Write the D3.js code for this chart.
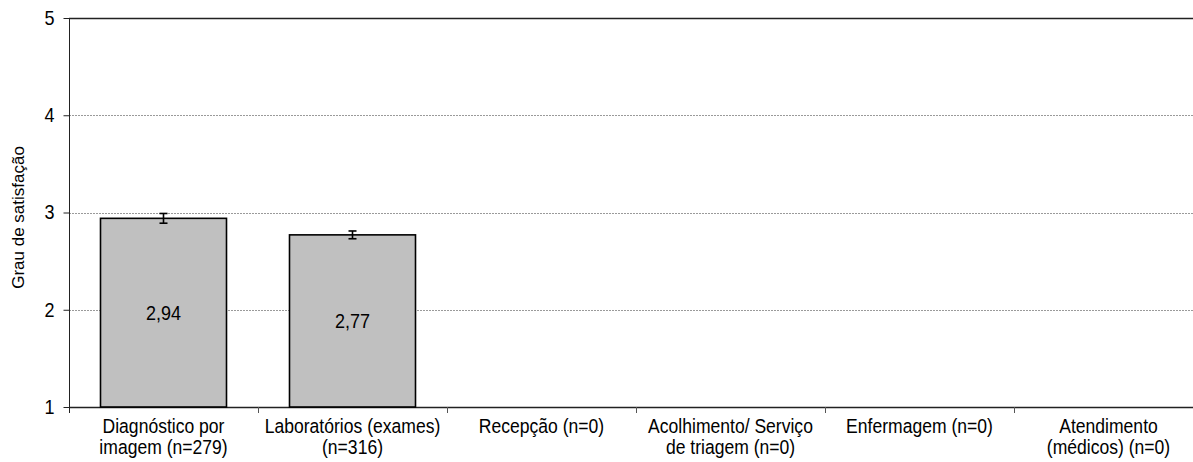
<!DOCTYPE html>
<html>
<head>
<meta charset="utf-8">
<script src="https://cdn.jsdelivr.net/npm/d3@7"></script>
<style>
  body { margin: 0; background: #fff; }
  text { font-family: "Liberation Sans", Arial, sans-serif; fill: #000; }
</style>
</head>
<body>
<div id="Diagram"></div>
<script>
// data
var categories = [
  ["Diagnóstico por", "imagem (n=279)"],
  ["Laboratórios (exames)", "(n=316)"],
  ["Recepção (n=0)"],
  ["Acolhimento/ Serviço", "de triagem (n=0)"],
  ["Enfermagem (n=0)"],
  ["Atendimento", "(médicos) (n=0)"]
];
var means = [2.94, 2.77, null, null, null, null];
var errors = [0.05, 0.04, null, null, null, null];
var yTicks = [1, 2, 3, 4, 5];
var yTitle = "Grau de satisfação";

var margin = {"left": 69, "right": 0, "top": 18, "bottom": 55}, width = 1134, height = 389;

var ptBR = d3.formatLocale({decimal: ",", thousands: ".", grouping: [3], currency: ["R$", ""]});
var fmt = ptBR.format(".2f");

var svg = d3.select("#Diagram")
  .append("svg")
    .attr("width", 1193)
    .attr("height", 462)
  .append("g")
    .attr("transform", "translate(" + margin.left + "," + margin.top + ")");

var idx = d3.range(categories.length);
var x = d3.scaleBand()
  .domain(idx)
  .range([0, width])
  .paddingInner(1 / 3)
  .paddingOuter(1 / 6);
var step = x.step();

var y = d3.scaleLinear()
  .domain([1, 5])
  .range([height, 0]);

// grid lines
svg.append("g")
  .selectAll("line")
  .data(yTicks.filter(function(d) { return d > 1 && d < 5; }))
  .enter()
  .append("line")
    .attr("x1", 0)
    .attr("x2", width)
    .attr("y1", function(d) { return Math.round(y(d)) + 0.5; })
    .attr("y2", function(d) { return Math.round(y(d)) + 0.5; })
    .style("stroke", "#9a9a9a")
    .style("stroke-dasharray", "2,1")
    .style("stroke-width", 1);

// top border
svg.append("line")
  .attr("x1", 0).attr("x2", width)
  .attr("y1", 0.5).attr("y2", 0.5)
  .style("stroke", "#222").style("stroke-width", 1.3);

// Y axis
var yAxis = svg.append("g")
  .attr("transform", "translate(0.5,0)")
  .call(d3.axisLeft(y).tickValues(yTicks).tickSize(6).tickPadding(8).tickFormat(d3.format("d")));
yAxis.select(".domain").attr("d", "M0,0V" + (height + 6)).style("stroke", "#222");
yAxis.selectAll(".tick line").style("stroke", "#222");
yAxis.selectAll(".tick text")
  .style("font-size", "20px")
  .attr("transform", "scale(0.9,1)")
  .attr("x", -15 / 0.9);

// X axis baseline and category ticks
svg.append("line")
  .attr("x1", 0).attr("x2", width)
  .attr("y1", height + 0.5).attr("y2", height + 0.5)
  .style("stroke", "#222").style("stroke-width", 1.3);
svg.append("g")
  .selectAll("line")
  .data(d3.range(1, categories.length + 1))
  .enter()
  .append("line")
    .attr("x1", function(d) { return Math.round(x(d - 1) - x.step() * x.paddingOuter() + step) + 0.5; })
    .attr("x2", function(d) { return Math.round(x(d - 1) - x.step() * x.paddingOuter() + step) + 0.5; })
    .attr("y1", height)
    .attr("y2", height + 6)
    .style("stroke", "#555");

// category labels
var labels = svg.append("g")
  .selectAll("text")
  .data(idx)
  .enter()
  .append("text")
    .attr("transform", function(i) {
      return "translate(" + (x(i) + x.bandwidth() / 2) + "," + (height + 26) + ") scale(0.9,1)";
    })
    .attr("text-anchor", "middle")
    .style("font-size", "19.5px");
labels.selectAll("tspan")
  .data(function(i) { return categories[i]; })
  .enter()
  .append("tspan")
    .attr("x", 0)
    .attr("y", function(d, k) { return k * 21; })
    .text(function(d) { return d; });

// bars
var withData = idx.filter(function(i) { return means[i] != null; });
svg.append("g")
  .selectAll("rect")
  .data(withData)
  .enter()
  .append("rect")
    .attr("x", function(i) { return x(i); })
    .attr("y", function(i) { return y(means[i]); })
    .attr("width", x.bandwidth())
    .attr("height", function(i) { return height - y(means[i]); })
    .style("fill", "#c0c0c0")
    .style("stroke", "#000")
    .style("stroke-width", 1.6);

// error bars
var eb = svg.append("g")
  .selectAll("g")
  .data(withData)
  .enter()
  .append("g")
    .attr("transform", function(i) { return "translate(" + (x(i) + x.bandwidth() / 2) + ",0)"; })
    .style("stroke", "#000")
    .style("stroke-width", 1.6);
eb.append("line")
  .attr("y1", function(i) { return y(means[i] + errors[i]); })
  .attr("y2", function(i) { return y(means[i] - errors[i]); });
eb.append("line")
  .attr("x1", -4).attr("x2", 4)
  .attr("y1", function(i) { return y(means[i] + errors[i]); })
  .attr("y2", function(i) { return y(means[i] + errors[i]); });
eb.append("line")
  .attr("x1", -4).attr("x2", 4)
  .attr("y1", function(i) { return y(means[i] - errors[i]); })
  .attr("y2", function(i) { return y(means[i] - errors[i]); });

// value labels
svg.append("g")
  .selectAll("text")
  .data(withData)
  .enter()
  .append("text")
    .attr("transform", function(i) {
      return "translate(" + (x(i) + x.bandwidth() / 2) + "," + ((y(means[i]) + height) / 2) + ") scale(0.9,1)";
    })
    .attr("text-anchor", "middle")
    .attr("dy", "0.35em")
    .style("font-size", "20px")
    .text(function(i) { return fmt(means[i]); });

// y title
svg.append("text")
  .attr("transform", "translate(" + (-margin.left + 24) + "," + (y(3) + 5) + ") rotate(-90)")
  .attr("text-anchor", "middle")
  .style("font-size", "17px")
  .text(yTitle);
</script>
</body>
</html>
